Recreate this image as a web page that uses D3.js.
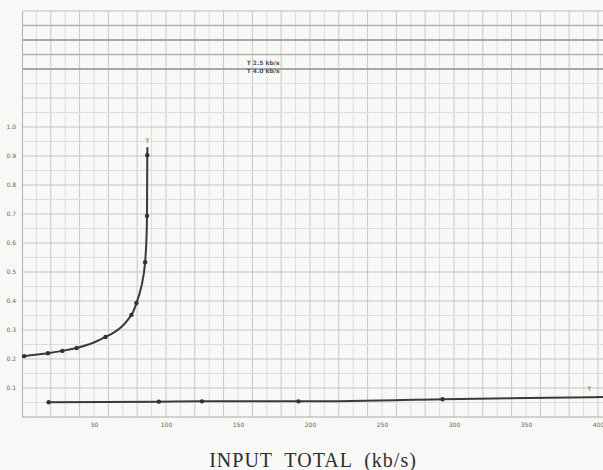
<!DOCTYPE html>
<html><head><meta charset="utf-8">
<script src="https://cdn.jsdelivr.net/npm/d3@7"></script>
<style>body{margin:0;background:#f8f8f6;}svg{display:block;}</style>
</head><body>
<svg id="c" width="603" height="470"></svg>
<script>
// Data
const xTicks = [50, 100, 150, 200, 250, 300, 350, 400];
const yTicks = [0.1, 0.2, 0.3, 0.4, 0.5, 0.6, 0.7, 0.8, 0.9, 1.0];
const curveInput = [0, 1.5, 18, 28, 38, 58, 76, 79.5, 85.5, 86.8, 87.0, 87.1];
const curveDelay = [0.208, 0.21, 0.22, 0.228, 0.238, 0.276, 0.352, 0.393, 0.534, 0.693, 0.903, 0.93];
const curveMarked = [false, true, true, true, true, true, true, true, true, true, true, false];
const flatInput = [18.5, 95, 125, 192, 292, 404];
const flatDelay = [0.051, 0.053, 0.054, 0.054, 0.061, 0.069];
const refLevels = [1.2, 1.25, 1.3, 1.35];
const refLabels = ["T  2.5 kb/s", "T  4.0 kb/s"];
const xTitle = "INPUT TOTAL (kb/s)";

const svg = d3.select("#c");
const x = d3.scaleLinear().domain([0, 400]).range([22, 598]);
const y = d3.scaleLinear().domain([0, 1.4]).range([417, 11]);

// grid
const g = svg.append("g");
g.selectAll(".vg").data(d3.range(10, 420, 10)).join("line")
  .attr("x1", d => x(d)).attr("x2", d => x(d)).attr("y1", y(1.4)).attr("y2", y(0))
  .attr("stroke", d => d % 20 === 0 ? "#c6c6c6" : "#dcdcdc").attr("stroke-width", 1);
g.selectAll(".hg").data(d3.range(1, 28).map(i => +(i * 0.05).toFixed(2))).join("line")
  .attr("x1", x(0)).attr("x2", 603).attr("y1", d => y(d)).attr("y2", d => y(d))
  .attr("stroke", d => Math.round(d * 100) % 10 === 0 ? "#c4c4c4" : "#dedede").attr("stroke-width", 1);

// reference horizontal lines at the top
g.selectAll(".ref").data(refLevels).join("line")
  .attr("x1", x(0)).attr("x2", 603).attr("y1", d => y(d)).attr("y2", d => y(d))
  .attr("stroke", (d, i) => i % 2 === 0 ? "#949494" : "#b0b0b0").attr("stroke-width", 1.3);
svg.append("line").attr("x1", x(0)).attr("x2", 603).attr("y1", y(1.4)).attr("y2", y(1.4))
  .attr("stroke", "#bdbdbd");

// axes
const xAxis = d3.axisBottom(x).tickValues(xTicks).tickSize(0).tickPadding(6);
const yAxis = d3.axisLeft(y).tickValues(yTicks).tickSize(0).tickPadding(6).tickFormat(d3.format(".1f"));
const xa = svg.append("g").attr("transform", `translate(0,${y(0)})`).call(xAxis);
xa.select(".domain").attr("stroke", "#aaa").attr("d", `M${x(0)},0H603`);
xa.selectAll("text").attr("font-size", 6).attr("fill", "#666").attr("font-family", "DejaVu Sans");
const ya = svg.append("g").attr("transform", `translate(${x(0)},0)`).call(yAxis);
ya.select(".domain").attr("stroke", "#b0b0b0");
ya.selectAll("text").attr("font-size", 6).attr("fill", "#666").attr("font-family", "DejaVu Sans");

// curve
const pts = curveInput.map((v, i) => ({x: v, y: curveDelay[i], m: curveMarked[i]}));
const line = d3.line().x(d => x(d.x)).y(d => y(d.y)).curve(d3.curveMonotoneY);
svg.append("path").datum(pts).attr("d", line).attr("fill", "none").attr("stroke", "#3a3a3a").attr("stroke-width", 2);
svg.selectAll(".cp").data(pts.filter(d => d.m)).join("circle")
  .attr("cx", d => x(d.x)).attr("cy", d => y(d.y)).attr("r", 2.2).attr("fill", "#333");

const fpts = flatInput.map((v, i) => ({x: v, y: flatDelay[i]}));
const fline = d3.line().x(d => x(d.x)).y(d => y(d.y)).curve(d3.curveMonotoneX);
svg.append("path").datum(fpts).attr("d", fline).attr("fill", "none").attr("stroke", "#3a3a3a").attr("stroke-width", 2);
svg.selectAll(".fp").data(fpts.slice(0, -1)).join("circle")
  .attr("cx", d => x(d.x)).attr("cy", d => y(d.y)).attr("r", 2.2).attr("fill", "#333");

// small labels
const lab = svg.append("g").attr("font-family", "DejaVu Sans").attr("font-size", 6).attr("fill", "#555");
lab.append("text").attr("x", x(87)).attr("y", y(0.93) - 4).attr("text-anchor", "middle").text("T");
lab.append("text").attr("x", x(394)).attr("y", y(0.069) - 6).attr("text-anchor", "middle").text("T");
refLabels.forEach((t, i) => {
  lab.append("text").attr("x", x(156)).attr("y", y(1.215) + i * 8).attr("font-weight", "bold").attr("fill", "#555").text(t);
});

// title
svg.append("text").attr("x", 313).attr("y", 467).attr("text-anchor", "middle")
  .attr("font-family", "Liberation Serif").attr("font-size", 20).attr("fill", "#2e2e2e")
  .attr("letter-spacing", 1).attr("word-spacing", 6).text(xTitle);
</script>
</body></html>
